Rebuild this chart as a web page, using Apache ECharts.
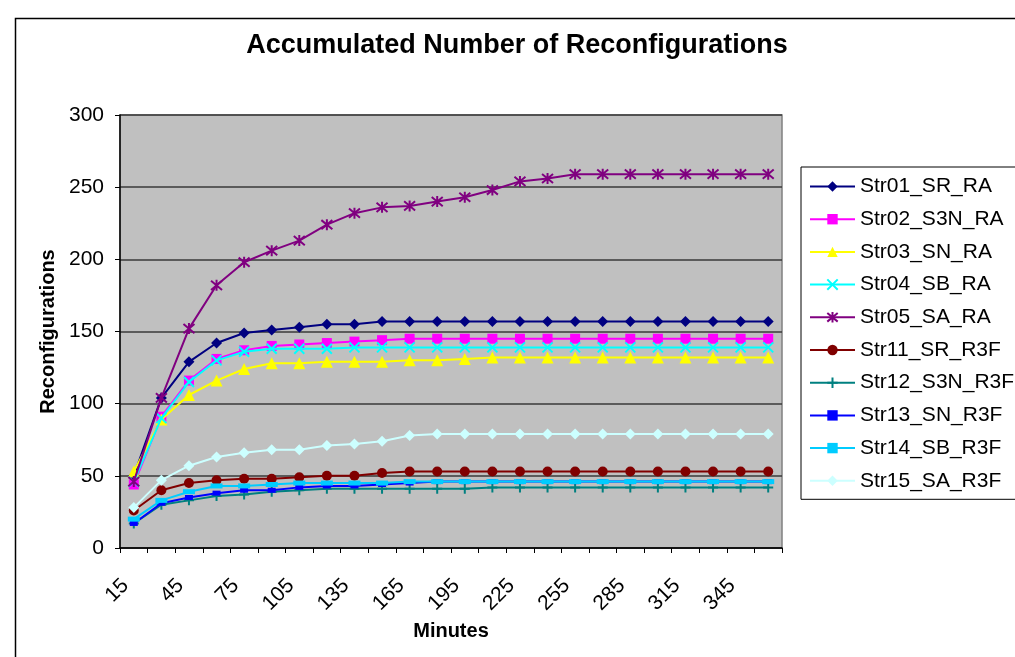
<!DOCTYPE html>
<html>
<head>
<meta charset="utf-8">
<script src="https://cdn.jsdelivr.net/npm/echarts@6/dist/echarts.min.js"></script>
<style>
html,body{margin:0;padding:0;background:#fff;}
#chart{width:1015px;height:657px;}
</style>
</head>
<body>
<div id="chart"></div>
<script>
var minutes = [15,30,45,60,75,90,105,120,135,150,165,180,195,210,225,240,255,270,285,300,315,330,345,360];
var yTicks = {min: 0, max: 300, interval: 50};
var seriesNames = ['Str01_SR_RA','Str02_S3N_RA','Str03_SN_RA','Str04_SB_RA','Str05_SA_RA','Str11_SR_R3F','Str12_S3N_R3F','Str13_SN_R3F','Str14_SB_R3F','Str15_SA_R3F'];
var str01 = [50,104,129,142,149,151,153,155,155,157,157,157,157,157,157,157,157,157,157,157,157,157,157,157];
var str02 = [44,91,116,131,137,140,141,142,143,144,145,145,145,145,145,145,145,145,145,145,145,145,145,145];
var str03 = [53,89,106,116,124,128,128,129,129,129,130,130,131,132,132,132,132,132,132,132,132,132,132,132];
var str04 = [46,90,115,130,136,138,138,138,139,139,139,139,139,139,139,139,139,139,139,139,139,139,139,139];
var str05 = [46,104,152,182,198,206,213,224,232,236,237,240,243,248,254,256,259,259,259,259,259,259,259,259];
var str11 = [26,40,45,47,48,48,49,50,50,52,53,53,53,53,53,53,53,53,53,53,53,53,53,53];
var str12 = [17,30,33,36,37,39,40,41,41,41,41,41,41,42,42,42,42,42,42,42,42,42,42,42];
var str13 = [17,31,35,38,40,40,42,43,43,44,45,46,46,46,46,46,46,46,46,46,46,46,46,46];
var str14 = [20,33,39,43,43,44,45,45,45,45,46,46,46,46,46,46,46,46,46,46,46,46,46,46];
var str15 = [28,47,57,63,66,68,68,71,72,74,78,79,79,79,79,79,79,79,79,79,79,79,79,79];
var allData = [str01,str02,str03,str04,str05,str11,str12,str13,str14,str15];

var colors = ['#000080','#FF00FF','#FFFF00','#00FFFF','#800080','#800000','#008080','#0000FF','#00CCFF','#CCFFFF'];
var symbols = ['diamond','rect','triangle',
  'path://M0,0L10,10M10,0L0,10',
  'path://M0,0L10,10M10,0L0,10M5,-1L5,11',
  'circle',
  'path://M5,0L5,10M0,5L10,5',
  'rect','rect','diamond'];
var symbolSizes = [11,10,12,10,11,10,10,[8,5],[12,5],11];
var strokeSyms = [false,false,false,true,true,false,true,false,false,false];

var FONT = '"Liberation Sans", Arial, sans-serif';
var chart = echarts.init(document.getElementById('chart'), null, {renderer:'canvas'});
var series = seriesNames.map(function(n,i){
  return {
    name: n, type: 'line', data: allData[i],
    symbol: symbols[i], symbolSize: symbolSizes[i],
    showAllSymbol: true,
    lineStyle: {color: colors[i], width: 2},
    itemStyle: strokeSyms[i] ? {color: colors[i], borderColor: colors[i], borderWidth: 2} : {color: colors[i], borderWidth: 0},
    emphasis: {disabled: true},
    z: 2 + i
  };
});
chart.setOption({
  animation: false,
  color: colors,
  graphic: [
    {type:'rect', shape:{x:15.5, y:18.5, width:1100, height:700}, style:{fill:'none', stroke:'#000', lineWidth:1.5}, z:-10},
    {type:'text', x:517, y:46, style:{text:'Accumulated Number of Reconfigurations', font:'bold 27px "Liberation Sans", Arial, sans-serif', fill:'#000', textAlign:'center', textVerticalAlign:'middle'}}
  ],
  grid: {left:120, top:115, right:233, bottom:109, show:true, backgroundColor:'#C0C0C0', borderColor:'#808080', borderWidth:1.5},
  legend: {
    orient:'vertical', left:801, top:167, width:260,
    itemWidth:45, itemHeight:13, itemGap:11.7,
    padding:[9,14,8,8],
    backgroundColor:'#fff', borderColor:'#000', borderWidth:1,
    textStyle:{fontFamily:FONT, fontSize:21, color:'#000', padding:[0,0,0,0]},
    data: seriesNames
  },
  xAxis: {
    type:'category', data: minutes, boundaryGap:true,
    name:'Minutes', nameLocation:'middle', nameGap:72,
    nameTextStyle:{fontFamily:FONT, fontSize:20, fontWeight:'bold', color:'#000'},
    axisLine:{show:true, lineStyle:{color:'#000', width:1.5}},
    axisTick:{show:true, interval:0, length:5, lineStyle:{color:'#000'}},
    axisLabel:{interval:1, rotate:45, fontFamily:FONT, fontSize:21, color:'#000', margin:26, padding:[0,12,0,0]},
    splitLine:{show:false}
  },
  yAxis: {
    type:'value', min:yTicks.min, max:yTicks.max, interval:yTicks.interval,
    name:'Reconfigurations', nameLocation:'middle', nameGap:62,
    nameTextStyle:{fontFamily:FONT, fontSize:20, fontWeight:'bold', color:'#000'},
    axisLine:{show:true, lineStyle:{color:'#000', width:1.5}},
    axisTick:{show:true, length:5, lineStyle:{color:'#000'}},
    axisLabel:{fontFamily:FONT, fontSize:21, color:'#000', margin:16},
    splitLine:{show:true, lineStyle:{color:'#3a3a3a', width:1.5}}
  },
  series: series
});
</script>
</body>
</html>
